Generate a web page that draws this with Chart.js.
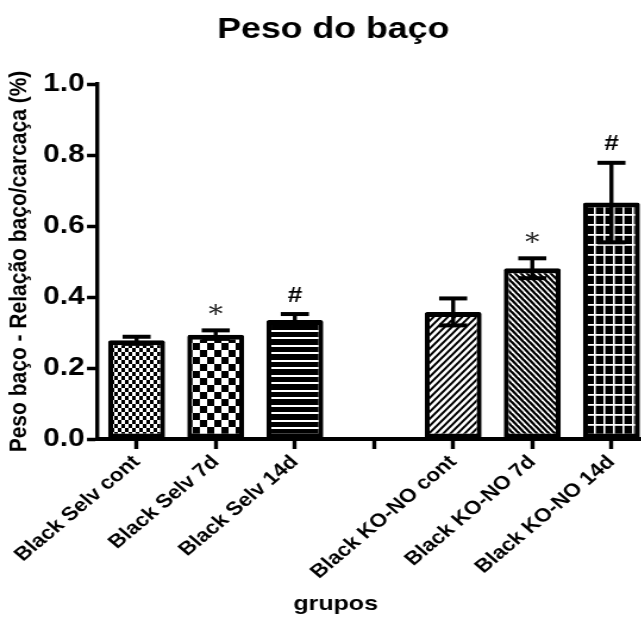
<!DOCTYPE html>
<html>
<head>
<meta charset="utf-8">
<title>Peso do baço</title>
<script src="https://cdn.jsdelivr.net/npm/chart.js@4.4.1/dist/chart.umd.min.js"></script>
<style>
  html, body { margin: 0; padding: 0; background: #fff; overflow: hidden; width: 641px; height: 625px; }
  #wrap { position: absolute; left: 0; top: 0; width: 651px; height: 625px; }
  canvas { display: block; }
</style>
</head>
<body>
<div id="wrap">
  <canvas id="c" width="547" height="625" style="width:651px;height:625px"></canvas>
</div>
<script>
// Groups (the empty slot separates wild-type from KO-NO animals)
const groups = ['Black Selv cont', 'Black Selv 7d', 'Black Selv 14d', '',
                'Black KO-NO cont', 'Black KO-NO 7d', 'Black KO-NO 14d'];
// Spleen / carcass ratio (%), mean and SEM
const means = [0.278, 0.294, 0.335, null, 0.358, 0.481, 0.666];
const sems  = [0.010, 0.012, 0.017, null, 0.038, 0.028, 0.112];
// Significance marks above each bar
const marks = ['', '*', '#', '', '', '*', '#'];
// Y axis ticks
const yTicks = [0.0, 0.2, 0.4, 0.6, 0.8, 1.0];

const FONT = '"Liberation Sans", Arial, Helvetica, sans-serif';
const canvas = document.getElementById('c');
const ctx = canvas.getContext('2d');

// Fill patterns for each bar
function tile(w, h, draw) {
  const c = document.createElement('canvas');
  c.width = w; c.height = h;
  const g = c.getContext('2d');
  draw(g, w, h);
  return ctx.createPattern(c, 'repeat');
}
function diag(g, w, h, lw, down) {
  g.strokeStyle = '#000'; g.lineWidth = lw; g.lineCap = 'square';
  for (let k = -1; k <= 1; k++) {
    g.beginPath();
    if (down) { g.moveTo(k * w, 0); g.lineTo((k + 1) * w, h); }
    else { g.moveTo(k * w, h); g.lineTo((k + 1) * w, 0); }
    g.stroke();
  }
}
const fills = [
  tile(6, 8, (g) => { g.fillStyle = '#fff'; g.fillRect(0, 0, 6, 8); g.fillStyle = '#000'; g.fillRect(0, 0, 3, 4); g.fillRect(3, 4, 3, 4); }),
  tile(12, 14, (g) => { g.fillStyle = '#fff'; g.fillRect(0, 0, 12, 14); g.fillStyle = '#000'; g.fillRect(0, 0, 6, 7); g.fillRect(6, 7, 6, 7); }),
  tile(10, 15, (g) => { g.fillStyle = '#000'; g.fillRect(0, 0, 10, 15); g.fillStyle = '#fff'; g.fillRect(0, 0, 10, 2); g.fillRect(0, 7, 10, 2); }),
  '#fff',
  tile(6, 7, (g, w, h) => { g.fillStyle = '#fff'; g.fillRect(0, 0, w, h); diag(g, w, h, 2, false); }),
  tile(5, 6, (g, w, h) => { g.fillStyle = '#fff'; g.fillRect(0, 0, w, h); diag(g, w, h, 2.3, true); }),
  tile(8, 10, (g) => { g.fillStyle = '#000'; g.fillRect(0, 0, 8, 10); g.fillStyle = '#fff'; g.fillRect(3, 0, 1.6, 10); g.fillRect(0, 4, 8, 1.8); })
];

// SEM whiskers with caps
const errorBars = {
  id: 'errorBars',
  afterDatasetsDraw(chart) {
    const { ctx: g, scales: { x, y } } = chart;
    const half = 11.8;
    g.save();
    g.strokeStyle = '#000';
    means.forEach((m, i) => {
      if (m == null) return;
      const px = x.getPixelForValue(i);
      const yt = y.getPixelForValue(m + sems[i]);
      const yb = y.getPixelForValue(m - sems[i]);
      g.lineWidth = 3.4;
      g.beginPath(); g.moveTo(px, yt); g.lineTo(px, yb); g.stroke();
      g.lineWidth = 4;
      g.beginPath(); g.moveTo(px - half, yt); g.lineTo(px + half, yt); g.stroke();
      g.beginPath(); g.moveTo(px - half, yb); g.lineTo(px + half, yb); g.stroke();
    });
    g.restore();
  }
};

// Titles and significance marks
function centeredGlyph(g, text, cx, cy) {
  const m = g.measureText(text);
  const asc = m.actualBoundingBoxAscent, desc = m.actualBoundingBoxDescent;
  g.textAlign = 'center';
  g.textBaseline = 'alphabetic';
  g.fillText(text, cx, cy + (asc - desc) / 2);
}
const texts = {
  id: 'texts',
  afterDraw(chart) {
    const { ctx: g, scales: { x, y }, chartArea } = chart;
    g.save();
    g.fillStyle = '#000';
    g.font = 'bold 30px ' + FONT;
    g.textAlign = 'center'; g.textBaseline = 'alphabetic';
    g.fillText('Peso do baço', 280, 38);

    g.font = 'bold 21px ' + FONT;
    g.fillText('grupos', 282, 610);

    g.save();
    g.translate(16, (chartArea.top + chartArea.bottom) / 2);
    g.rotate(-Math.PI / 2);
    g.textAlign = 'center'; g.textBaseline = 'middle';
    g.font = 'bold 21px ' + FONT;
    g.fillText('Peso baço - Relação baço/carcaça (%)', 0, 0);
    g.restore();

    means.forEach((m, i) => {
      if (!marks[i]) return;
      const px = x.getPixelForValue(i);
      const yt = y.getPixelForValue(m + sems[i]);
      g.font = marks[i] === '#' ? 'bold 22px ' + FONT : '24px "DejaVu Serif", serif';
      g.fillStyle = marks[i] === '#' ? '#000' : '#222';
      centeredGlyph(g, marks[i], px, yt - 20);
    });
    g.restore();
  }
};

new Chart(ctx, {
  type: 'bar',
  data: {
    labels: groups,
    datasets: [{
      data: means,
      backgroundColor: fills,
      borderColor: '#000',
      borderWidth: { top: 5, bottom: 5, left: 4.2, right: 4.2 },
      borderSkipped: false,
      borderRadius: 2,
      barPercentage: 0.72,
      categoryPercentage: 1
    }]
  },
  options: {
    responsive: false,
    animation: false,
    devicePixelRatio: 1,
    layout: { padding: { top: 84, left: 0, right: 0, bottom: 0 } },
    plugins: { legend: { display: false }, title: { display: false }, tooltip: { enabled: false } },
    scales: {
      x: {
        offset: true,
        grid: { display: true, offset: false, drawOnChartArea: false, drawTicks: true, tickLength: 10, tickWidth: 3.4, tickColor: '#000' },
        border: { display: true, color: '#000', width: 4 },
        ticks: { color: '#000', font: { family: FONT, weight: 'bold', size: 19 }, minRotation: 45, maxRotation: 45, autoSkip: false, padding: 2 },
        afterFit(s) { s.height = 186; }
      },
      y: {
        min: 0, max: 1,
        afterBuildTicks(s) { s.ticks = yTicks.map(v => ({ value: v })); },
        grid: { display: true, drawOnChartArea: false, drawTicks: true, tickLength: 8.4, tickWidth: 3.5, tickColor: '#000' },
        border: { display: true, color: '#000', width: 3.4 },
        ticks: { color: '#000', font: { family: FONT, weight: 'bold', size: 25 }, padding: 2, callback: v => Number(v).toFixed(1) },
        afterFit(s) { s.width = 81.5; }
      }
    }
  },
  plugins: [errorBars, texts]
});
</script>
</body>
</html>
